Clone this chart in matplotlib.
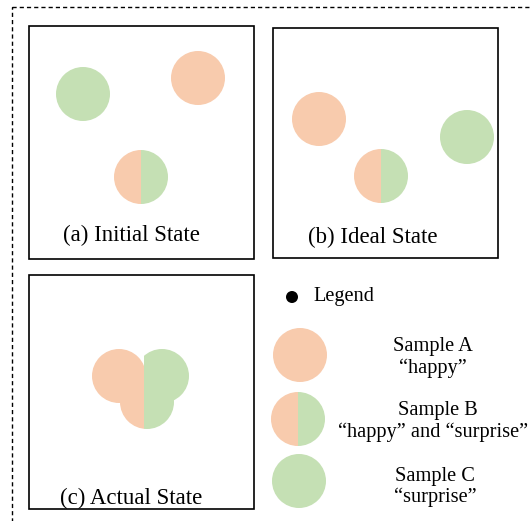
import matplotlib
matplotlib.use("Agg")
import matplotlib.pyplot as plt
from matplotlib.patches import Circle, Rectangle

# couleurs des echantillons
ORANGE = "#F8CBAD"
GREEN = "#C5E0B4"

# cadres des trois etats (x0, y0, x1, y1) en pixels
panel_boxes = [(29, 26, 254, 259), (273, 28, 498, 258), (29, 275, 254, 509)]
panel_titles = ["(a) Initial State", "(b) Ideal State", "(c) Actual State"]
title_pos = [(131, 235), (373, 237), (131, 498)]

# echantillons : (type, x, y) ; type A = happy, B = les deux, C = surprise
state_a = [("C", 83, 94), ("A", 198, 78), ("B", 141, 177)]
state_b = [("A", 319, 119), ("B", 381, 176), ("C", 467, 137)]
radius = 27

# etat reel : cercles qui se chevauchent, separes par une ligne verticale
actual_orange = [(119, 376), (147, 402)]
actual_green = [(162, 376), (147, 402)]
actual_split_x = 144

# legende
legend_dot = (292, 297)
legend_label = "Legend"
legend_kinds = ["A", "B", "C"]
legend_circles = [(300, 355), (298, 419), (299, 481)]
legend_lines = [("Sample A", "\u201chappy\u201d"),
                ("Sample B", "\u201chappy\u201d and \u201csurprise\u201d"),
                ("Sample C", "\u201csurprise\u201d")]
legend_text_x = [433, 438, 435]
legend_text_y = [(346, 368), (411, 432), (476, 497)]
long_line_x = 338  # la ligne de B depasse le bord droit

plt.rcParams["font.family"] = ["Liberation Serif", "DejaVu Serif"]
FS = 16.5
FS_LEG = 14.7

fig = plt.figure(figsize=(5.30, 5.21), dpi=100)
ax = fig.add_axes([0, 0, 1, 1])
ax.set_xlim(0, 530)
ax.set_ylim(521, 0)
ax.axis("off")


def clipped_circle(x, y, color, x_min, x_max, r=radius):
    c = Circle((x, y), r, fc=color, ec="none", zorder=3)
    ax.add_patch(c)
    c.set_clip_path(Rectangle((x_min, y - r - 2), x_max - x_min, 2 * r + 4,
                              transform=ax.transData))


def draw_sample(kind, x, y, r=radius):
    if kind == "A":
        ax.add_patch(Circle((x, y), r, fc=ORANGE, ec="none", zorder=3))
    elif kind == "C":
        ax.add_patch(Circle((x, y), r, fc=GREEN, ec="none", zorder=3))
    else:
        clipped_circle(x, y, ORANGE, x - r - 2, x, r)
        clipped_circle(x, y, GREEN, x, x + r + 2, r)


# cadre pointille exterieur
ax.add_patch(Rectangle((12, 6.5), 540, 530, fill=False, ec="black", lw=1.0,
                       ls=(0, (3.0, 2.2)), zorder=1))

# cadres des etats
for (x0, y0, x1, y1), title, (tx, ty) in zip(panel_boxes, panel_titles, title_pos):
    ax.add_patch(Rectangle((x0, y0), x1 - x0, y1 - y0, fill=False, ec="black",
                           lw=1.2, zorder=2))
    ax.text(tx, ty, title, fontsize=FS, ha="center", va="center", zorder=5)

for kind, x, y in state_a + state_b:
    draw_sample(kind, x, y)

# etat reel
for x, y in actual_orange:
    clipped_circle(x, y, ORANGE, x - radius - 2, actual_split_x)
for x, y in actual_green:
    clipped_circle(x, y, GREEN, actual_split_x, x + radius + 2)

# legende
ax.add_patch(Circle(legend_dot, 6, fc="black", ec="none", zorder=3))
ax.text(legend_dot[0] + 21, legend_dot[1], legend_label, fontsize=FS_LEG,
        ha="left", va="center")
for kind, (x, y), (l1, l2), tx, (y1, y2) in zip(legend_kinds, legend_circles,
                                                legend_lines, legend_text_x, legend_text_y):
    draw_sample(kind, x, y)
    ax.text(tx, y1, l1, fontsize=FS_LEG, ha="center", va="center")
    if kind == "B":
        ax.text(long_line_x, y2, l2, fontsize=FS_LEG, ha="left", va="center")
    else:
        ax.text(tx, y2, l2, fontsize=FS_LEG, ha="center", va="center")

fig.savefig("out.png", dpi=100)
